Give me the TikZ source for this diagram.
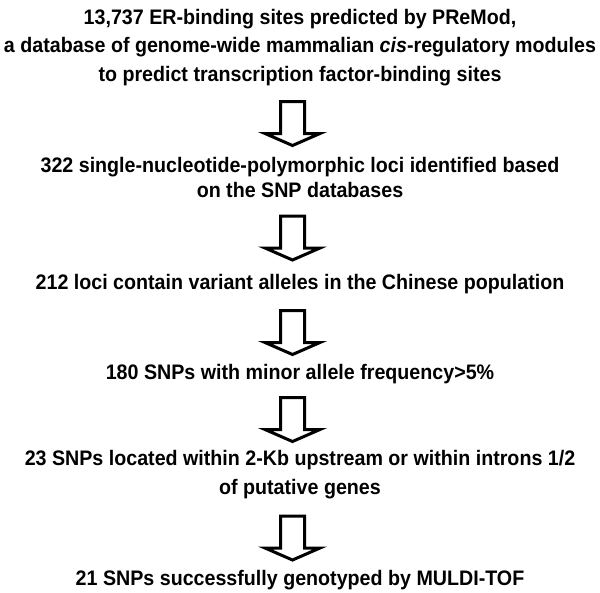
\documentclass[tikz,border=0pt]{standalone}
\usepackage{fontspec}
\setmainfont{Liberation Sans}
\newcommand\narrowtext[1]{\scalebox{0.936}[1]{#1}}
\begin{document}
\begin{tikzpicture}[x=1pt,y=-1pt,
  txt/.style={anchor=base, inner sep=0pt, font=\fontsize{21}{24}\selectfont\bfseries},
  blockarrow/.pic={\draw[line width=3pt, line join=miter, miter limit=10, fill=white]
    (-12,0) -- (12,0) -- (12,32) -- (27.5,32) -- (0,44) -- (-27.5,32) -- (-12,32) -- cycle;}]
\useasboundingbox (0,0) rectangle (600,592);
\node[txt] (t1a) at (300,24) {\narrowtext{13,737 ER-binding sites predicted by PReMod,}};
\node[txt] (t1b) at (300,52.5) {\narrowtext{a database of genome-wide mammalian \textit{cis}-regulatory modules}};
\node[txt] (t1c) at (300,81) {\narrowtext{to predict transcription factor-binding sites}};
\node[txt] (t2a) at (300,172) {\narrowtext{322 single-nucleotide-polymorphic loci identified based}};
\node[txt] (t2b) at (300,197) {\narrowtext{on the SNP databases}};
\node[txt] (t3) at (300,289) {\narrowtext{212 loci contain variant alleles in the Chinese population}};
\node[txt] (t4) at (300,379) {\narrowtext{180 SNPs with minor allele frequency>5\%}};
\node[txt] (t5a) at (300,465) {\narrowtext{23 SNPs located within 2-Kb upstream or within introns 1/2}};
\node[txt] (t5b) at (300,494) {\narrowtext{of putative genes}};
\node[txt] (t6) at (300,585) {\narrowtext{21 SNPs successfully genotyped by MULDI-TOF}};
\pic at (292.5,101.5) {blockarrow};
\pic at (292.5,216) {blockarrow};
\pic at (292.5,310.5) {blockarrow};
\pic at (292.5,397.5) {blockarrow};
\pic at (292.5,516) {blockarrow};
\end{tikzpicture}
\end{document}
